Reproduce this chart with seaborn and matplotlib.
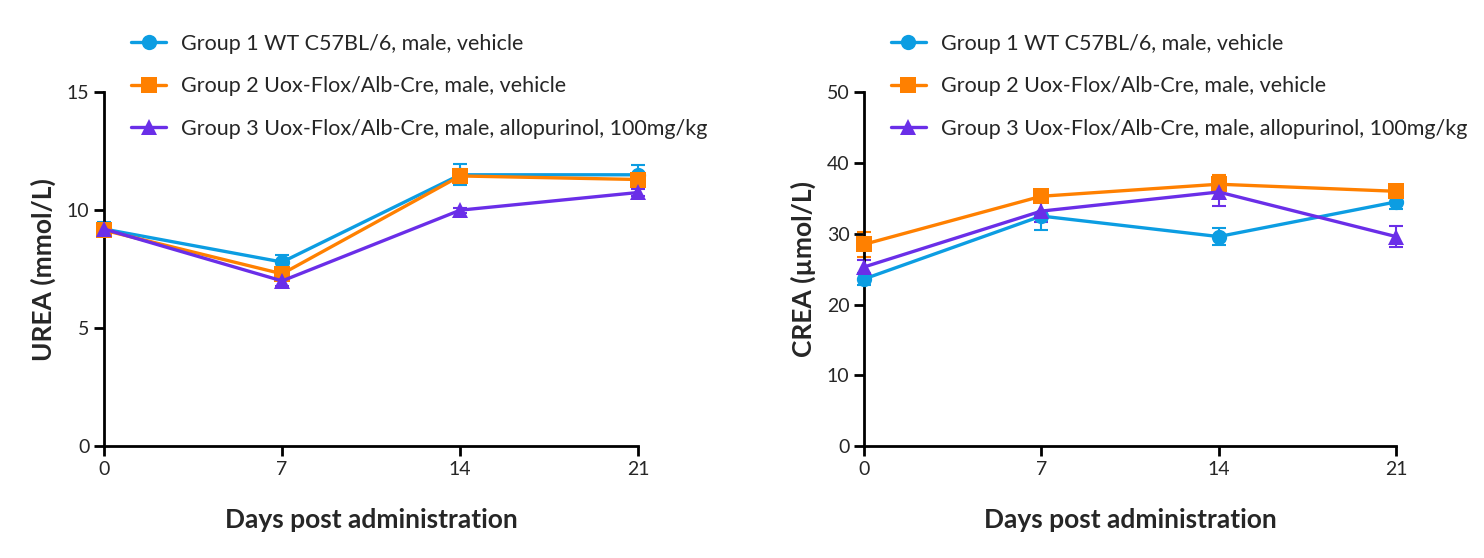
import numpy as np
import pandas as pd
import seaborn as sns
import matplotlib.pyplot as plt

days = [0, 7, 14, 21]
groups = ['Group 1 WT C57BL/6, male, vehicle',
          'Group 2 Uox-Flox/Alb-Cre, male, vehicle',
          'Group 3 Uox-Flox/Alb-Cre, male, allopurinol, 100mg/kg']
colors = ['#0C9DE2', '#FF8000', '#6A2EE8']
markers = ['o', 's', '^']

# UREA (mmol/L), mean and SEM
urea_mean = [[9.2, 7.8, 11.5, 11.5],
             [9.15, 7.3, 11.45, 11.3],
             [9.2, 7.0, 10.0, 10.75]]
urea_sem = [[0.3, 0.3, 0.45, 0.4],
            [0.2, 0.2, 0.3, 0.25],
            [0.15, 0.2, 0.1, 0.15]]

# CREA (umol/L), mean and SEM
crea_mean = [[23.6, 32.5, 29.6, 34.5],
             [28.5, 35.3, 37.0, 36.0],
             [25.3, 33.2, 35.9, 29.6]]
crea_sem = [[0.9, 2.0, 1.2, 1.0],
            [1.8, 0.5, 1.3, 0.5],
            [1.0, 1.5, 2.0, 1.5]]

sns.set_style('ticks')
plt.rcParams['font.family'] = ['Lato', 'DejaVu Sans']

fig = plt.figure(figsize=(14.84, 5.58), dpi=100)
ax1 = fig.add_axes([0.0701, 0.2007, 0.36, 0.634])
ax2 = fig.add_axes([0.5822, 0.2007, 0.3585, 0.634])


def draw(ax, means, sems, ylim, yticks, ylabel):
    rows = []
    for g, m in zip(groups, means):
        for d, v in zip(days, m):
            rows.append({'day': d, 'value': v, 'group': g})
    df = pd.DataFrame(rows)
    for g, m, s, c in zip(groups, means, sems, colors):
        ax.errorbar(days, m, yerr=s, fmt='none', ecolor=c, elinewidth=1.5,
                    capsize=5, capthick=1.5, zorder=2, clip_on=False)
    sns.lineplot(data=df, x='day', y='value', hue='group', style='group',
                 palette=colors, markers=markers, dashes=False, linewidth=2.4,
                 markersize=11, markeredgewidth=0, ax=ax, legend=True,
                 zorder=3, clip_on=False)
    ax.set_xlim(0, 21)
    ax.set_ylim(*ylim)
    ax.set_xticks(days)
    ax.set_yticks(yticks)
    ax.set_xlabel('Days post administration', fontsize=19, fontweight='bold', labelpad=22)
    ax.set_ylabel(ylabel, fontsize=19, fontweight='bold', labelpad=8)
    ax.tick_params(labelsize=14, width=2, length=7, color='black')
    for side in ['left', 'bottom']:
        ax.spines[side].set_linewidth(2)
        ax.spines[side].set_color('black')
    sns.despine(ax=ax)
    h, l = ax.get_legend_handles_labels()
    ax.legend(h, l, loc='upper left', bbox_to_anchor=(0.035, 1.19), frameon=False,
              fontsize=15.5, handlelength=1.6, handletextpad=0.7,
              labelspacing=1.05, borderaxespad=0)


draw(ax1, urea_mean, urea_sem, (0, 15), [0, 5, 10, 15], 'UREA (mmol/L)')
draw(ax2, crea_mean, crea_sem, (0, 50), [0, 10, 20, 30, 40, 50], 'CREA (µmol/L)')

fig.savefig('out.png', dpi=100)
